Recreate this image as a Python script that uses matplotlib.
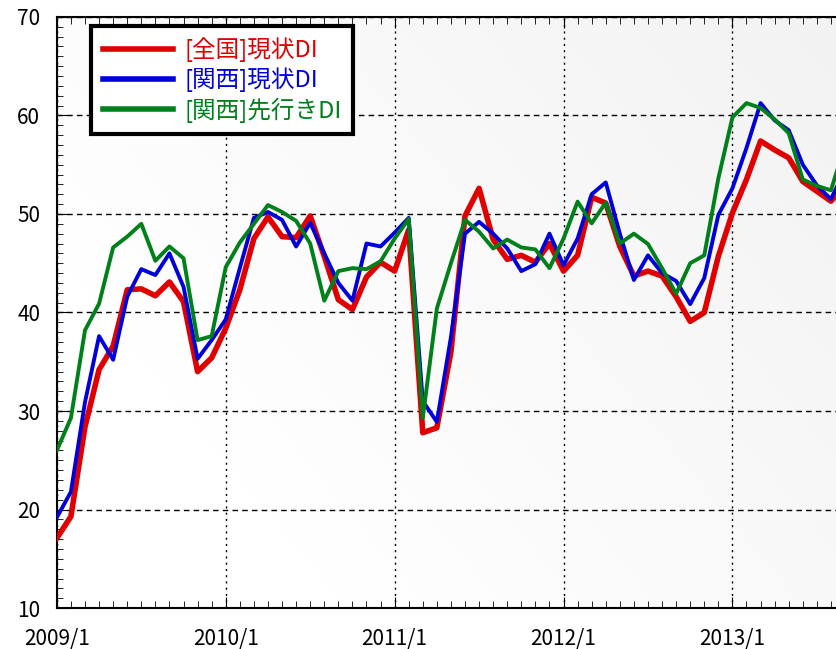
import numpy as np
import matplotlib
matplotlib.use("Agg")
import matplotlib.pyplot as plt
from matplotlib.ticker import MultipleLocator

plt.rcParams['font.family'] = ['Noto Sans CJK JP', 'DejaVu Sans']

# monthly values, 2009/1 onwards (last point lies just past the right edge)
zenkoku_genjo = [17.1, 19.3, 28.4, 34.2, 36.6, 42.3, 42.4, 41.7, 43.1, 41.1, 34.0, 35.4,
                 38.4, 42.3, 47.5, 49.7, 47.7, 47.6, 49.8, 45.7, 41.3, 40.3, 43.6, 45.1,
                 44.2, 48.4, 27.8, 28.3, 36.0, 49.8, 52.6, 47.4, 45.4, 45.8, 45.1, 47.0,
                 44.2, 45.8, 51.7, 51.1, 46.7, 43.7, 44.2, 43.7, 41.6, 39.1, 40.0, 45.7,
                 50.1, 53.5, 57.4, 56.5, 55.7, 53.3, 52.3, 51.3, 52.9]
kansai_genjo = [19.2, 21.8, 30.9, 37.6, 35.2, 41.6, 44.4, 43.8, 46.0, 42.6, 35.3, 37.2,
                39.3, 44.5, 49.6, 50.2, 49.4, 46.7, 49.1, 46.0, 43.0, 41.2, 47.0, 46.7,
                48.1, 49.6, 31.0, 28.9, 37.5, 48.0, 49.2, 48.0, 46.5, 44.2, 44.9, 48.0,
                44.8, 47.5, 52.0, 53.2, 48.0, 43.3, 45.8, 44.0, 43.2, 40.85, 43.5, 49.9,
                52.6, 56.7, 61.25, 59.5, 58.5, 55.0, 52.9, 51.5, 54.5]
kansai_sakiyuki = [26.0, 29.3, 38.2, 40.9, 46.6, 47.7, 49.0, 45.25, 46.7, 45.5, 37.2, 37.6,
                   44.6, 47.1, 49.0, 50.9, 50.2, 49.3, 47.0, 41.2, 44.2, 44.5, 44.4, 45.2,
                   47.5, 49.5, 29.3, 40.4, 45.0, 49.4, 48.2, 46.5, 47.4, 46.6, 46.4, 44.5,
                   47.5, 51.25, 49.05, 51.15, 47.0, 48.0, 46.95, 44.5, 41.9, 45.0, 45.8, 53.6,
                   59.8, 61.25, 60.75, 59.6, 58.2, 53.5, 52.85, 52.4, 57.0]
year_labels = ["2009/1", "2010/1", "2011/1", "2012/1", "2013/1"]
series_names = ["[全国]現状DI", "[関西]現状DI", "[関西]先行きDI"]

months = np.arange(len(zenkoku_genjo))

fig = plt.figure(figsize=(8.36, 6.49), dpi=100)
ax = fig.add_axes([0.068, 0.063, 0.932, 0.911])

# very soft gray wash toward the upper right
gx, gy = np.meshgrid(np.linspace(0, 1, 400), np.linspace(1, 0, 400))
shade = 1 - 0.05 * np.clip(0.8 * gx + 0.5 * gy - 0.3, 0, 1)
ax.imshow(np.dstack([shade] * 3), extent=[0, 55.36, 10, 70], aspect='auto',
          interpolation='bicubic', zorder=0)

ax.plot(months, zenkoku_genjo, color='#e00000', lw=4.0, label=series_names[0], zorder=3)
ax.plot(months, kansai_genjo, color='#0000dd', lw=2.8, label=series_names[1], zorder=4)
ax.plot(months, kansai_sakiyuki, color='#00801a', lw=2.8, label=series_names[2], zorder=5)

ax.set_xlim(0, 55.36)
ax.set_ylim(10, 70)
ax.set_xticks(np.arange(0, 60, 12))
ax.set_xticklabels(year_labels)
ax.xaxis.set_minor_locator(MultipleLocator(1))
ax.yaxis.set_major_locator(MultipleLocator(10))
ax.yaxis.set_minor_locator(MultipleLocator(1))

ax.tick_params(axis='both', which='both', direction='in', labelsize=15, color='black')
ax.tick_params(axis='x', which='both', top=True)
ax.tick_params(axis='x', which='major', length=8, pad=14)
ax.tick_params(axis='x', which='minor', length=5)
ax.tick_params(axis='y', which='major', length=8, pad=12)
ax.tick_params(axis='y', which='minor', length=4)

ax.yaxis.grid(True, color='black', lw=1, linestyle=(0, (4, 3)))
ax.xaxis.grid(True, color='black', lw=1, linestyle=(0, (1.5, 3)))
ax.set_axisbelow(False)

for s in ax.spines.values():
    s.set_linewidth(1.5)
ax.spines['right'].set_visible(False)

leg = ax.legend(loc='upper left', bbox_to_anchor=(0.0436, 0.985), borderaxespad=0,
                fontsize=17, handlelength=3.0, handletextpad=0.45, borderpad=0.5,
                labelspacing=0.22, fancybox=False, framealpha=1, edgecolor='black',
                labelcolor='linecolor')
leg.get_frame().set_linewidth(3)
for h in leg.get_lines():
    h.set_linewidth(4)

fig.savefig("out.png", dpi=100)
